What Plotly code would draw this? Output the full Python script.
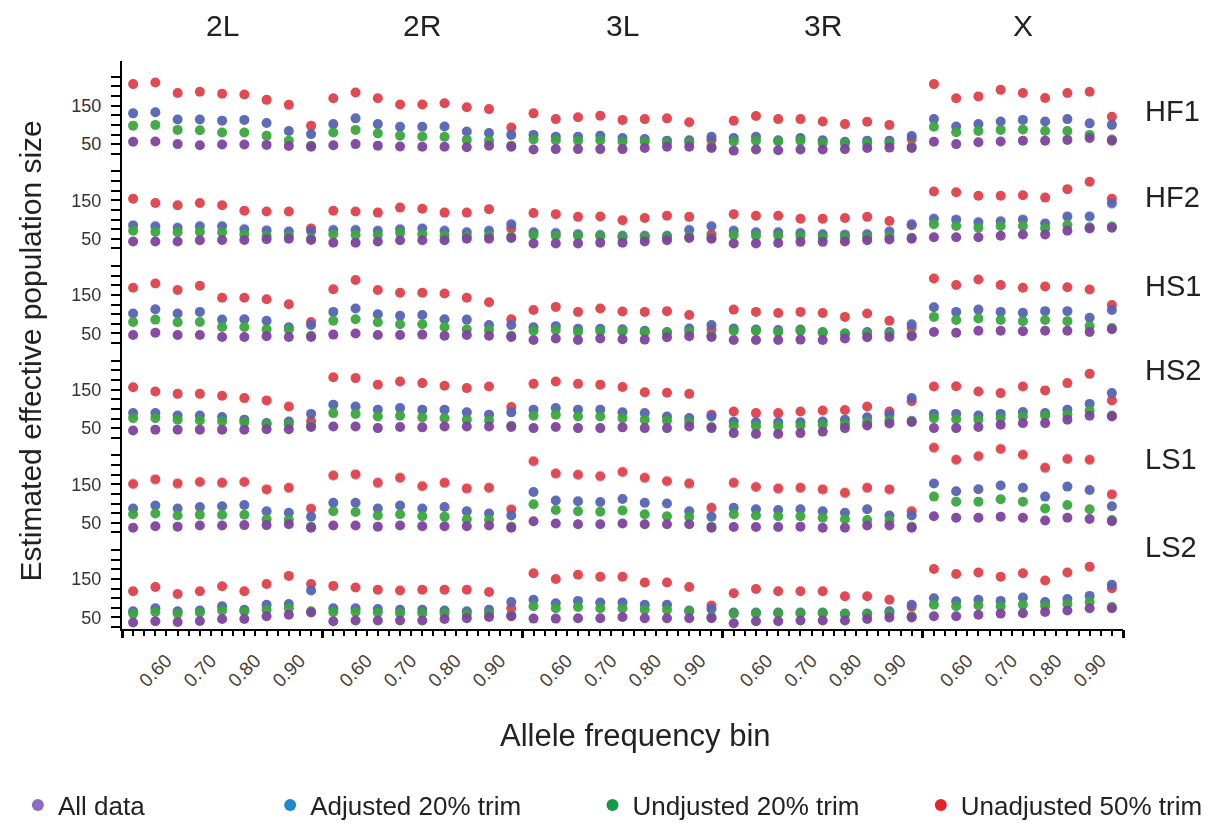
import plotly.graph_objects as go

# ---------------- data ----------------
chromosomes = ["2L", "2R", "3L", "3R", "X"]
populations = ["HF1", "HF2", "HS1", "HS2", "LS1", "LS2"]
bins = [0.55, 0.60, 0.65, 0.70, 0.75, 0.80, 0.85, 0.90, 0.95]
tick_labels = ["0.60", "0.70", "0.80", "0.90"]
series_names = ["All data", "Adjusted 20% trim", "Undjusted 20% trim", "Unadjusted 50% trim"]

# values per population: 5 chromosomes x 9 bins (2L, 2R, 3L, 3R, X)
hf1_all = [56, 57, 50, 47, 49, 49, 48, 45, 43, 47, 50, 46, 44, 43, 43, 42, 46, 43,
           36, 37, 37, 37, 37, 40, 43, 43, 40, 33, 36, 34, 36, 36, 37, 40, 41, 40,
           56, 50, 55, 57, 59, 59, 61, 66, 59]
hf1_adj20 = [130, 133, 114, 114, 111, 113, 105, 84, 76, 102, 117, 102, 95, 95, 96, 83, 79, 74,
             74, 69, 69, 72, 66, 63, 59, 60, 69, 66, 69, 60, 66, 60, 56, 59, 59, 71,
             115, 96, 102, 109, 113, 109, 115, 104, 100]
hf1_und20 = [98, 100, 87, 86, 80, 80, 72, 59, 46, 80, 87, 78, 72, 70, 69, 61, 59, 46,
             62, 60, 59, 60, 56, 56, 54, 54, 43, 57, 59, 57, 59, 53, 52, 52, 52, 43,
             95, 81, 84, 87, 88, 84, 84, 74, 62]
hf1_und50 = [206, 210, 183, 186, 181, 179, 165, 152, 98, 169, 184, 169, 153, 153, 156, 146, 141, 93,
             130, 115, 120, 124, 113, 115, 117, 107, 61, 111, 123, 115, 115, 109, 102, 108, 100, 63,
             206, 169, 174, 191, 183, 170, 183, 186, 121]

hf2_all = [43, 43, 43, 46, 47, 47, 49, 50, 47, 40, 40, 43, 46, 46, 46, 50, 50, 52,
           38, 38, 38, 40, 40, 43, 46, 52, 50, 38, 38, 39, 42, 42, 43, 46, 48, 50,
           54, 54, 54, 58, 61, 61, 71, 77, 79]
hf2_adj20 = [85, 83, 79, 83, 83, 75, 72, 69, 70, 73, 73, 71, 75, 77, 71, 67, 71, 88,
             67, 65, 62, 60, 58, 58, 58, 73, 83, 71, 67, 67, 65, 62, 61, 62, 69, 88,
             102, 100, 93, 96, 100, 90, 108, 108, 142]
hf2_und20 = [71, 68, 67, 68, 67, 62, 58, 58, 50, 62, 60, 60, 65, 62, 58, 56, 58, 55,
             60, 58, 58, 57, 54, 54, 54, 56, 53, 60, 58, 58, 57, 54, 54, 54, 56, 53,
             88, 83, 79, 83, 83, 77, 86, 80, 82]
hf2_und50 = [154, 143, 137, 143, 137, 123, 121, 121, 77, 123, 121, 118, 131, 128, 118, 118, 127, 77,
             117, 114, 107, 108, 98, 104, 110, 107, 62, 114, 110, 110, 102, 102, 104, 107, 96, 85,
             173, 171, 162, 162, 163, 157, 179, 198, 154]

hs1_all = [46, 52, 46, 46, 41, 41, 43, 41, 41, 47, 50, 46, 46, 47, 44, 46, 44, 41,
           33, 37, 33, 37, 35, 34, 40, 43, 41, 33, 33, 33, 34, 33, 37, 40, 41, 43,
           54, 52, 57, 57, 56, 57, 57, 54, 61]
hs1_adj20 = [102, 113, 102, 106, 86, 87, 83, 66, 72, 106, 115, 100, 96, 98, 87, 86, 72, 72,
             66, 69, 62, 62, 61, 57, 54, 63, 72, 63, 60, 59, 60, 54, 50, 54, 54, 74,
             118, 106, 112, 106, 104, 108, 108, 91, 111]
hs1_und20 = [80, 86, 79, 80, 67, 67, 61, 60, 44, 83, 87, 79, 74, 74, 67, 61, 59, 44,
             57, 59, 54, 56, 56, 53, 52, 55, 44, 57, 57, 54, 57, 52, 50, 50, 50, 46,
             93, 85, 89, 85, 82, 85, 82, 69, 64]
hs1_und50 = [169, 180, 163, 174, 143, 143, 139, 126, 80, 165, 189, 163, 156, 156, 154, 143, 131, 87,
             111, 119, 106, 115, 107, 106, 108, 98, 60, 112, 106, 103, 106, 103, 93, 102, 83, 65,
             193, 176, 190, 176, 169, 172, 170, 164, 124]

hs2_all = [44, 46, 46, 46, 46, 46, 47, 47, 53, 54, 54, 50, 53, 52, 54, 54, 54, 53,
           50, 53, 50, 50, 52, 50, 50, 54, 50, 37, 35, 35, 37, 41, 50, 57, 62, 66,
           50, 50, 53, 59, 63, 63, 72, 82, 80]
hs2_adj20 = [89, 89, 83, 83, 79, 72, 63, 67, 87, 111, 106, 98, 102, 98, 98, 91, 85, 91,
             98, 102, 98, 98, 91, 89, 80, 76, 80, 67, 65, 65, 65, 67, 72, 78, 85, 128,
             87, 87, 83, 87, 92, 89, 98, 113, 141]
hs2_und20 = [76, 76, 72, 70, 67, 65, 60, 60, 56, 89, 87, 80, 82, 78, 76, 72, 70, 56,
             82, 85, 80, 80, 76, 72, 70, 65, 53, 56, 55, 55, 56, 58, 60, 65, 70, 69,
             76, 73, 72, 76, 80, 82, 85, 95, 83]
hs2_und50 = [156, 145, 139, 139, 134, 128, 122, 106, 68, 182, 180, 163, 171, 167, 160, 154, 158, 105,
             165, 171, 165, 163, 157, 143, 142, 139, 85, 93, 89, 89, 93, 96, 97, 106, 93, 120,
             158, 159, 145, 141, 158, 148, 167, 191, 122]

ls1_all = [37, 41, 40, 43, 43, 44, 44, 46, 37, 43, 43, 40, 43, 41, 41, 41, 43, 37,
           54, 48, 46, 46, 48, 46, 46, 46, 37, 39, 39, 39, 40, 37, 37, 43, 43, 37,
           67, 63, 63, 66, 63, 56, 63, 60, 54]
ls1_adj20 = [87, 95, 87, 91, 93, 96, 80, 76, 66, 102, 102, 87, 95, 87, 91, 80, 74, 69,
             130, 108, 106, 104, 112, 102, 100, 80, 66, 89, 85, 83, 85, 80, 76, 85, 69, 69,
             152, 132, 137, 147, 141, 118, 144, 135, 93]
ls1_und20 = [72, 74, 69, 71, 71, 71, 59, 58, 40, 80, 78, 69, 72, 67, 66, 59, 58, 40,
             98, 83, 80, 79, 82, 72, 67, 65, 40, 72, 69, 67, 67, 63, 59, 57, 55, 40,
             118, 105, 105, 111, 105, 87, 96, 85, 57]
ls1_und50 = [151, 163, 152, 156, 154, 156, 137, 141, 87, 173, 176, 154, 167, 145, 154, 139, 141, 85,
             210, 178, 175, 171, 182, 167, 158, 152, 89, 154, 143, 139, 141, 137, 128, 141, 137, 80,
             245, 214, 223, 242, 227, 193, 216, 214, 124]

ls2_all = [37, 40, 38, 41, 46, 46, 53, 57, 63, 40, 42, 42, 42, 42, 46, 48, 51, 53,
           47, 47, 48, 48, 51, 48, 48, 48, 48, 35, 40, 40, 42, 42, 42, 46, 50, 50,
           53, 53, 57, 60, 61, 64, 68, 74, 74]
ls2_adj20 = [66, 74, 66, 68, 79, 70, 83, 85, 120, 74, 74, 72, 70, 70, 68, 66, 70, 90,
             96, 87, 93, 89, 89, 83, 83, 68, 72, 63, 63, 63, 63, 63, 60, 60, 66, 83,
             100, 92, 96, 93, 102, 90, 98, 106, 135]
ls2_und20 = [60, 64, 60, 63, 68, 66, 70, 74, 66, 64, 64, 63, 61, 61, 61, 59, 60, 56,
             79, 74, 77, 74, 74, 70, 70, 66, 51, 60, 61, 61, 61, 61, 58, 58, 60, 53,
             83, 79, 81, 79, 83, 80, 85, 90, 77]
ls2_und50 = [118, 129, 111, 118, 131, 118, 137, 158, 137, 132, 128, 122, 120, 122, 122, 122, 116, 74,
             165, 150, 161, 156, 156, 141, 141, 129, 81, 113, 124, 118, 118, 118, 105, 105, 96, 78,
             176, 163, 167, 156, 165, 146, 167, 182, 126]

# ---------------- styling ----------------
FONT = "Liberation Sans, Arial, Helvetica, sans-serif"
dot_colors = ["#7f439f", "#5664b4", "#3aa83e", "#e0404a"]      # all, adj20, und20, und50
legend_colors = ["#8a6cc0", "#1e88d0", "#14994a", "#e4222c"]
draw_order = [3, 1, 2, 0]  # red bottom, purple on top

rows = [
    [hf1_all, hf1_adj20, hf1_und20, hf1_und50],
    [hf2_all, hf2_adj20, hf2_und20, hf2_und50],
    [hs1_all, hs1_adj20, hs1_und20, hs1_und50],
    [hs2_all, hs2_adj20, hs2_und20, hs2_und50],
    [ls1_all, ls1_adj20, ls1_und20, ls1_und50],
    [ls2_all, ls2_adj20, ls2_und20, ls2_und50],
]

nb = len(bins)
nc = len(chromosomes)
x_pos = [c * nb + b for c in range(nc) for b in range(nb)]
nrow = len(populations)

fig = go.Figure()
for r, row in enumerate(rows):
    yref = "y" if r == 0 else f"y{r + 1}"
    for s in draw_order:
        fig.add_trace(go.Scatter(
            x=x_pos, y=row[s], mode="markers", xaxis="x", yaxis=yref,
            marker=dict(color=dot_colors[s], size=10, line=dict(width=0)),
            opacity=0.95, showlegend=False, name=series_names[s], hoverinfo="skip"))

# legend entries (four separately positioned legends)
legend_ids = ["legend", "legend2", "legend3", "legend4"]
legend_x = [-0.104, 0.148, 0.470, 0.798]
for s in range(4):
    fig.add_trace(go.Scatter(
        x=[None], y=[None], mode="markers", name=series_names[s],
        marker=dict(color=legend_colors[s], size=10), legend=legend_ids[s],
        showlegend=True, xaxis="x", yaxis=f"y{nrow}"))

# empty trace for the panel-boundary tick axis
fig.add_trace(go.Scatter(x=[], y=[], xaxis="x2", yaxis=f"y{nrow}", showlegend=False))

x_range = [-0.5, nc * nb - 0.5]
tickvals = [c * nb + bins.index(float(t)) for c in range(nc) for t in tick_labels]
ticktext = [t for c in range(nc) for t in tick_labels]
boundary = [c * nb - 0.5 for c in range(nc + 1)]

layout = dict(
    width=1201, height=815,
    paper_bgcolor="white", plot_bgcolor="white",
    margin=dict(l=114, r=86, t=53, b=194, autoexpand=False),
    font=dict(family=FONT, color="#222222"),
    showlegend=True,
    xaxis=dict(
        range=x_range, anchor=f"y{nrow}", showline=True, linecolor="black", linewidth=2,
        showgrid=False, zeroline=False, automargin=False,
        tickmode="array", tickvals=tickvals, ticktext=ticktext, tickangle=-45,
        ticks="outside", ticklen=5, tickwidth=1.5, tickcolor="black",
        tickfont=dict(size=19, color="#4a4036", family=FONT),
        ticklabelstandoff=6, ticklabelshift=11,
        minor=dict(tickmode="linear", tick0=-0.5, dtick=0.5, ticks="outside",
                   ticklen=5, tickwidth=1.5, tickcolor="black", showgrid=False),
    ),
    xaxis2=dict(
        range=x_range, anchor=f"y{nrow}", overlaying="x", side="bottom",
        showline=False, showgrid=False, zeroline=False, automargin=False,
        tickmode="array", tickvals=boundary, ticktext=[""] * len(boundary),
        ticks="outside", ticklen=8, tickwidth=3, tickcolor="black", showticklabels=False,
    ),
)

ytickvals = list(range(25, 226, 25))
yticktext = ["50" if v == 50 else "150" if v == 150 else "" for v in ytickvals]
for r in range(nrow):
    key = "yaxis" if r == 0 else f"yaxis{r + 1}"
    layout[key] = dict(
        domain=[1 - (r + 1) / nrow, 1 - r / nrow], range=[20, 266], anchor="x",
        showline=True, linecolor="black", linewidth=2, showgrid=False, zeroline=False,
        automargin=False,
        tickmode="array", tickvals=ytickvals, ticktext=yticktext,
        ticks="outside", ticklen=9, tickwidth=1.5, tickcolor="black",
        tickfont=dict(size=18, color="#333333", family=FONT),
        ticklabelstandoff=6,
    )

for i, lid in enumerate(legend_ids):
    layout[lid] = dict(
        orientation="h", x=legend_x[i], xanchor="left", y=-0.31, yanchor="middle",
        font=dict(size=26, family=FONT, color="#222222"), bgcolor="rgba(0,0,0,0)",
        itemsizing="constant")

fig.update_layout(**layout)

# column titles
for c, name in enumerate(chromosomes):
    fig.add_annotation(text=name, xref="x", x=c * nb + (nb - 1) / 2, yref="paper", y=1.062,
                       showarrow=False, font=dict(size=30, family=FONT, color="#222222"),
                       xanchor="center", yanchor="middle")

# row labels
row_label_y = [0.912, 0.761, 0.604, 0.456, 0.299, 0.144]
for r, name in enumerate(populations):
    fig.add_annotation(text=name, xref="paper", x=1.02, yref="paper", y=row_label_y[r],
                       showarrow=False, font=dict(size=29, family=FONT, color="#222222"),
                       xanchor="left", yanchor="middle")

# axis titles
fig.add_annotation(text="Estimated effective population size", xref="paper", x=-0.091,
                   yref="paper", y=0.49, textangle=-90, showarrow=False,
                   font=dict(size=30, family=FONT, color="#222222"),
                   xanchor="center", yanchor="middle")
fig.add_annotation(text="Allele frequency bin", xref="paper", x=0.513, yref="paper", y=-0.188,
                   showarrow=False, font=dict(size=31, family=FONT, color="#222222"),
                   xanchor="center", yanchor="middle")

fig.write_html("out.html")
